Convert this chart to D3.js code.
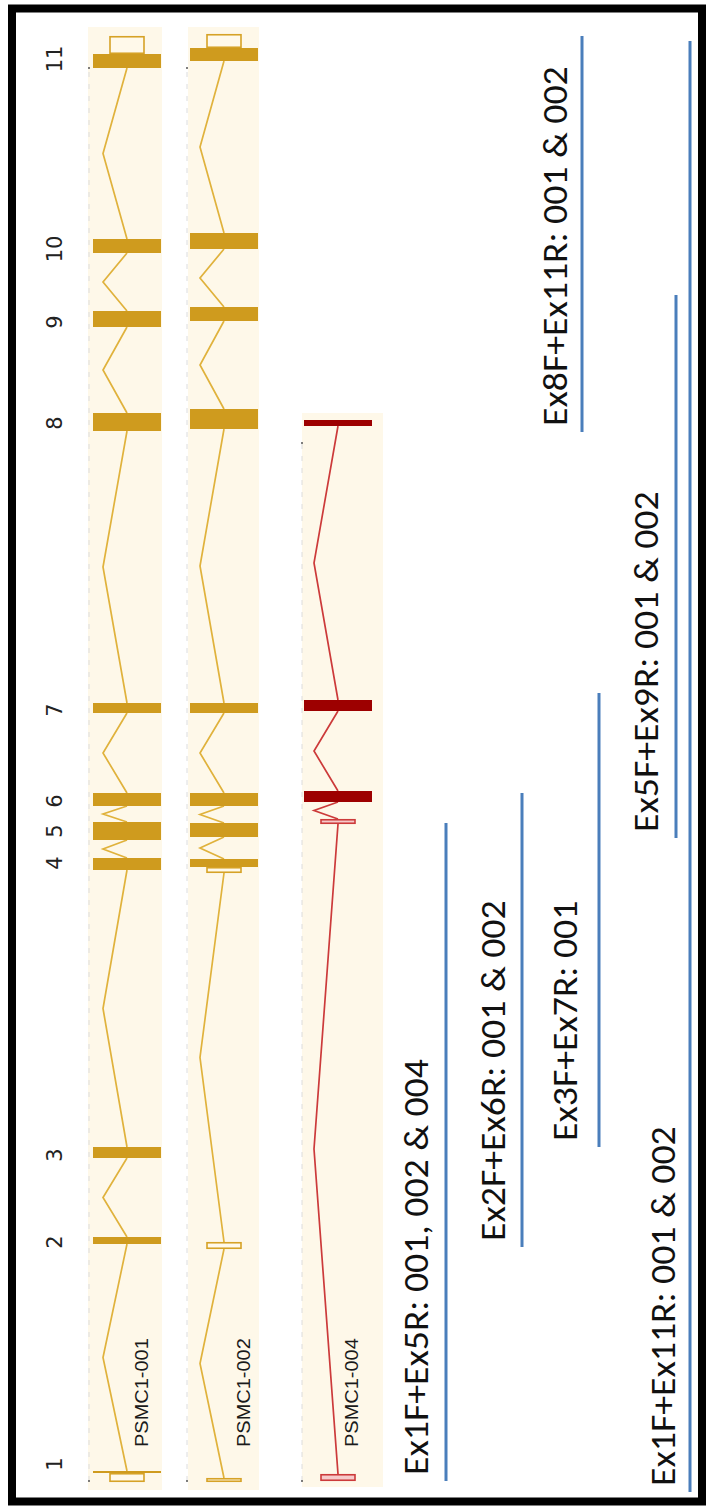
<!DOCTYPE html>
<html><head><meta charset="utf-8">
<script src="https://cdn.jsdelivr.net/npm/d3@7"></script>
<style>html,body{margin:0;padding:0;background:#fff;} svg{display:block;}</style>
</head><body>
<svg id="chart" width="706" height="1509"></svg>
<script>
// ---------- DATA (positions along the gene, relative units from exon 1 start) ----------
const exonNumbers = ["1","2","3","4","5","6","7","8","9","10","11"];
const exonTickPos = [18, 240, 327, 619, 651, 681, 772, 1059, 1160, 1233, 1423];

const transcriptNames = ["PSMC1-001", "PSMC1-002", "PSMC1-004"];

const codingPSMC1_001 = [[9,11],[238,245],[324,335],[612,624],[642,660],[676,689],[769,779],[1051,1069],[1155,1171],[1229,1243],[1414,1428]];
const utrPSMC1_001    = [[0,9],[1428,1446]];
const codingPSMC1_002 = [[615,623],[645,659],[676,689],[769,779],[1053,1073],[1161,1175],[1233,1249],[1421,1434]];
const utrPSMC1_002    = [[0,4],[233,240],[609,615],[1434,1448]];
const codingPSMC1_004 = [[680,691],[771,782],[1056,1062]];
const utrPSMC1_004    = [[1,8],[658,663]];

const primerNames = ["Ex1F+Ex5R: 001, 002 & 004", "Ex2F+Ex6R: 001 & 002", "Ex3F+Ex7R: 001",
                     "Ex5F+Ex9R: 001 & 002", "Ex8F+Ex11R: 001 & 002", "Ex1F+Ex11R: 001 & 002"];
const primerStart = [1, 235, 335, 644, 1050, -10];
const primerEnd   = [659, 689, 789, 1187, 1446, 1441];

// ---------- LAYOUT / STYLE ----------
const W = 706, H = 1509;
const svg = d3.select("#chart");
svg.append("rect").attr("width", W).attr("height", H).attr("fill", "#fff");

const y = d3.scaleLinear().domain([0, 1455]).range([1482, 27]);

const tracks = [
  {name: transcriptNames[0], coding: codingPSMC1_001, utr: utrPSMC1_001, cx: 127, bandX: [88, 162], bandPos: [-8, 1455], dashX: 89, dashPos: [1, 1414], labelX: 148,
   exonFill: "#cf9b1e", lineCol: "#e0b23c", utrStroke: "#d6a226", utrFill: "#fff9ea"},
  {name: transcriptNames[1], coding: codingPSMC1_002, utr: utrPSMC1_002, cx: 224, bandX: [188, 259], bandPos: [-8, 1455], dashX: 187, dashPos: [1, 1414], labelX: 250,
   exonFill: "#cf9b1e", lineCol: "#e0b23c", utrStroke: "#d6a226", utrFill: "#fff9ea"},
  {name: transcriptNames[2], coding: codingPSMC1_004, utr: utrPSMC1_004, cx: 338, bandX: [302, 383], bandPos: [-5, 1069], dashX: 302, dashPos: [1, 1039], labelX: 358,
   exonFill: "#9d0000", lineCol: "#cc3a3a", utrStroke: "#cc3a3a", utrFill: "#f6caca"}
];
const codingHalf = 34, utrHalf = 17, apexOffset = 24;

tracks.forEach(t => {
  const g = svg.append("g");
  // background band
  g.append("rect")
    .attr("x", t.bandX[0]).attr("width", t.bandX[1] - t.bandX[0])
    .attr("y", y(t.bandPos[1])).attr("height", y(t.bandPos[0]) - y(t.bandPos[1]))
    .attr("fill", "#fef8e9");
  // faint dashed guide
  g.append("line")
    .attr("x1", t.dashX).attr("x2", t.dashX)
    .attr("y1", y(t.dashPos[0])).attr("y2", y(t.dashPos[1]))
    .attr("stroke", "#dcdcdc").attr("stroke-width", 1).attr("stroke-dasharray", "5,7");
  [t.dashPos[0], t.dashPos[1]].forEach(p => g.append("circle").attr("cx", t.dashX).attr("cy", y(p)).attr("r", 1).attr("fill", "#555"));

  // merge segments into exon blocks for introns
  const segs = t.coding.map(d => [d[0], d[1]]).concat(t.utr.map(d => [d[0], d[1]])).sort((a, b) => a[0] - b[0]);
  const blocks = [];
  segs.forEach(s => {
    const last = blocks[blocks.length - 1];
    if (last && s[0] <= last[1] + 0.5) last[1] = Math.max(last[1], s[1]);
    else blocks.push([s[0], s[1]]);
  });
  const introns = d3.pairs(blocks).map(([a, b]) => [a[1], b[0]]);
  g.selectAll("path.intron").data(introns).join("path")
    .attr("d", d => `M${t.cx},${y(d[0])} L${t.cx - apexOffset},${y((d[0] + d[1]) / 2)} L${t.cx},${y(d[1])}`)
    .attr("fill", "none").attr("stroke", t.lineCol).attr("stroke-width", 1.7);

  // UTR boxes
  g.selectAll("rect.utr").data(t.utr).join("rect")
    .attr("x", t.cx - utrHalf).attr("width", utrHalf * 2)
    .attr("y", d => y(d[1]) + 0.75).attr("height", d => Math.max(0.5, y(d[0]) - y(d[1]) - 1.5))
    .attr("fill", t.utrFill).attr("stroke", t.utrStroke).attr("stroke-width", 1.6);
  // coding exons
  g.selectAll("rect.cds").data(t.coding).join("rect")
    .attr("x", t.cx - codingHalf).attr("width", codingHalf * 2)
    .attr("y", d => y(d[1])).attr("height", d => Math.max(1.5, y(d[0]) - y(d[1])))
    .attr("fill", t.exonFill);

  // transcript label
  g.append("text")
    .attr("transform", `translate(${t.labelX},${y(35)}) rotate(-90) scale(1.08,1)`)
    .attr("font-family", "'Liberation Sans', Arial, sans-serif").attr("font-size", 18.5)
    .attr("fill", "#1a1a1a").text(t.name);
});

// exon number labels
svg.append("g").selectAll("text").data(exonNumbers).join("text")
  .attr("transform", (d, i) => `translate(62,${y(exonTickPos[i])}) rotate(-90)`)
  .attr("text-anchor", "middle")
  .attr("font-family", "'DejaVu Sans', sans-serif").attr("font-size", 21)
  .attr("fill", "#222").text(d => d);

// primer products
const primerLaneX = [446, 522, 599, 676, 582, 690];
const primerLabelX = [428, 505, 577, 658, 567, 675];
const pg = svg.append("g");
primerNames.forEach((name, i) => {
  pg.append("line")
    .attr("x1", primerLaneX[i]).attr("x2", primerLaneX[i])
    .attr("y1", y(primerStart[i])).attr("y2", y(primerEnd[i]))
    .attr("stroke", "#4a7ebb").attr("stroke-width", 3);
  pg.append("text")
    .attr("transform", `translate(${primerLabelX[i]},${y(primerStart[i]) - 6}) rotate(-90) scale(1.11,1)`)
    .attr("font-family", "Carlito, Lato, 'Open Sans', sans-serif").attr("font-size", 34)
    .attr("fill", "#111").text(name);
});

// outer frame
svg.append("rect").attr("x", 12).attr("y", 8.5).attr("width", 690).attr("height", 1493)
  .attr("fill", "none").attr("stroke", "#000").attr("stroke-width", 8);
</script>
</body></html>
